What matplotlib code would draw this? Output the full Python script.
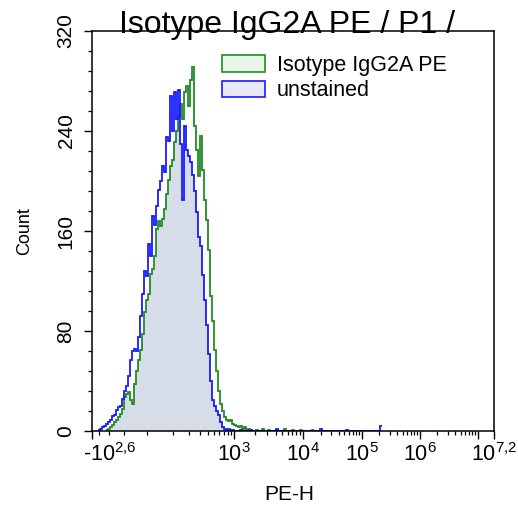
import numpy as np
import matplotlib
matplotlib.use("Agg")
import matplotlib.pyplot as plt
from matplotlib.patches import Patch
from matplotlib import transforms
from matplotlib.ticker import FixedLocator, FixedFormatter, MultipleLocator

plt.rcParams['font.family'] = ['Liberation Sans', 'DejaVu Sans']
plt.rcParams['mathtext.fontset'] = 'custom'
plt.rcParams['mathtext.rm'] = 'Liberation Sans'
plt.rcParams['mathtext.it'] = 'Liberation Sans:italic'
plt.rcParams['mathtext.bf'] = 'Liberation Sans:bold'

# ---- data: event counts per display channel (201 channels across the PE-H axis)
N_CHANNELS = 201

blue_first_channel = 2
blue_counts = [0, 1, 2, 3, 4, 6, 7, 9, 12, 13, 17, 19, 20, 26, 32, 36, 44, 57, 64, 66,
               64, 75, 92, 110, 128, 124, 150, 140, 172, 165, 180, 193, 200, 212, 207,
               235, 232, 268, 240, 271, 250, 273, 230, 185, 244, 225, 220, 215, 205,
               192, 175, 155, 148, 125, 105, 85, 62, 40, 25, 20, 16, 13, 7, 3, 2, 1,
               2, 1, 1, 0]
blue_tail_channels = [74, 79, 92, 114, 127, 144]
blue_tail_counts = [1, 1, 2, 2, 1, 4]

green_first_channel = 6
green_counts = [0, 1, 2, 3, 5, 7, 9, 11, 14, 18, 27, 30, 31, 25, 22, 38, 48, 57, 65,
                78, 95, 105, 110, 126, 130, 140, 162, 168, 164, 170, 178, 190, 201,
                212, 217, 231, 240, 252, 262, 250, 271, 276, 260, 281, 291, 244, 225,
                204, 236, 209, 185, 169, 145, 108, 88, 65, 48, 32, 22, 16, 11, 9, 8,
                9, 6, 5, 4, 3, 4, 2, 3, 1, 2, 1]
green_tail_channels = [82, 85, 88, 92, 96, 100, 104, 110]
green_tail_counts = [1, 2, 1, 1, 2, 1, 1, 1]

series_labels = ["Isotype IgG2A PE", "unstained"]
title_text = "Isotype IgG2A PE / P1 /"

x_major_values = [-10 ** 2.6, 1e3, 1e4, 1e5, 1e6, 1e7, 10 ** 7.2]
x_major_labels = [r"-$10^{2{,}6}$", r"$10^{3}$", r"$10^{4}$", r"$10^{5}$",
                  r"$10^{6}$", "", r"$10^{7{,}2}$"]
y_major_values = [0, 80, 160, 240, 320]

# ---- biexponential-like display scale for PE-H
SCALE_C = 100.0
scale_values = np.array([-10 ** 2.6, 0.0, 1e3, 1e4, 1e5, 1e6, 1e7, 10 ** 7.2])
scale_fraction = np.array([0, 55, 142, 211, 270, 328, 386, 402]) / 402.0
scale_asinh = np.arcsinh(scale_values / SCALE_C)


def _interp_extrap(x, xp, fp):
    x = np.asarray(x, dtype=float)
    y = np.interp(x, xp, fp)
    lo = x < xp[0]
    hi = x > xp[-1]
    y = np.where(lo, fp[0] + (x - xp[0]) * (fp[1] - fp[0]) / (xp[1] - xp[0]), y)
    y = np.where(hi, fp[-1] + (x - xp[-1]) * (fp[-1] - fp[-2]) / (xp[-1] - xp[-2]), y)
    return y


def biex_forward(v):
    return _interp_extrap(np.arcsinh(np.asarray(v, dtype=float) / SCALE_C),
                          scale_asinh, scale_fraction)


def biex_inverse(t):
    return SCALE_C * np.sinh(_interp_extrap(t, scale_fraction, scale_asinh))


def full_counts(first, dense, tail_ch, tail_cnt):
    arr = np.zeros(N_CHANNELS)
    arr[first:first + len(dense)] = dense
    arr[np.array(tail_ch)] = tail_cnt
    return arr


blue = full_counts(blue_first_channel, blue_counts, blue_tail_channels, blue_tail_counts)
green = full_counts(green_first_channel, green_counts, green_tail_channels, green_tail_counts)
edges = biex_inverse(np.arange(N_CHANNELS + 1) / N_CHANNELS)

fig = plt.figure(figsize=(5.18, 5.11), dpi=100)
ax = fig.add_axes([92 / 518, 1 - 431 / 511, 402 / 518, 400 / 511])
ax.set_xscale('function', functions=(biex_forward, biex_inverse))
ax.set_xlim(-10 ** 2.6, 10 ** 7.2)
ax.set_ylim(0, 320)

GREEN = '#228b22'
BLUE = '#1a1aff'

overlap = np.minimum(blue, green)
ax.stairs(overlap, edges, fill=True, color='#d6dde9', lw=0, zorder=1)


def draw_line(counts, color, z):
    idx = np.nonzero(counts)[0]
    lo, hi = idx[0], idx[-1] + 1
    ax.stairs(counts[lo:hi], edges[lo:hi + 1], baseline=None, color=color,
              lw=1.3, zorder=z)


draw_line(green, GREEN, 3)
draw_line(blue, BLUE, 4)

# axes frame
for sp in ax.spines.values():
    sp.set_linewidth(1.1)
    sp.set_zorder(6)

# x ticks
ax.xaxis.set_major_locator(FixedLocator(x_major_values))
ax.xaxis.set_major_formatter(FixedFormatter(x_major_labels))
x_minor = [-300, -200, -100, 0] + list(range(100, 1000, 100))
for dec in range(3, 7):
    x_minor += [k * 10 ** dec for k in range(2, 10)]
ax.xaxis.set_minor_locator(FixedLocator(x_minor))
ax.tick_params(axis='x', which='major', length=5.8, width=1.0, labelsize=15.5, pad=3)
ax.tick_params(axis='x', which='minor', length=3.0, width=0.9)

# y ticks
ax.yaxis.set_major_locator(FixedLocator(y_major_values))
ax.yaxis.set_minor_locator(MultipleLocator(16))
ax.tick_params(axis='y', which='major', length=5.8, width=1.0, labelsize=15, pad=6)
ax.tick_params(axis='y', which='minor', length=3.0, width=0.9)
plt.setp(ax.get_yticklabels(), rotation=90, va='center')

# shift the leftmost x label to the right so it stays on the canvas
first_lbl = ax.get_xticklabels()[0]
first_lbl.set_transform(first_lbl.get_transform() +
                        transforms.ScaledTranslation(18 / 100, 0, fig.dpi_scale_trans))

ax.set_xlabel("PE-H", fontsize=15)
ax.xaxis.set_label_coords(0.49, -0.135)
ax.xaxis.label.set_va('top')
ax.set_ylabel("Count", fontsize=13)
ax.yaxis.set_label_coords(-0.147, 0.5)

handles = [Patch(facecolor='#e9f4e9', edgecolor=GREEN, lw=1.2, label=series_labels[0]),
           Patch(facecolor='#e8e8fb', edgecolor=BLUE, lw=1.2, label=series_labels[1])]
ax.legend(handles=handles, loc='upper left', bbox_to_anchor=(0.323, 0.94),
          frameon=False, handlelength=2.0, handleheight=0.8, handletextpad=0.55,
          labelspacing=0.2, borderaxespad=0, borderpad=0, fontsize=15.5)

title_tr = transforms.offset_copy(ax.transAxes, fig=fig, x=0, y=-2, units='dots')
ax.text(0.486, 1.0, title_text, transform=title_tr, ha='center', va='baseline',
        fontsize=23, clip_on=False, zorder=7)

fig.savefig("out.png", dpi=100)
